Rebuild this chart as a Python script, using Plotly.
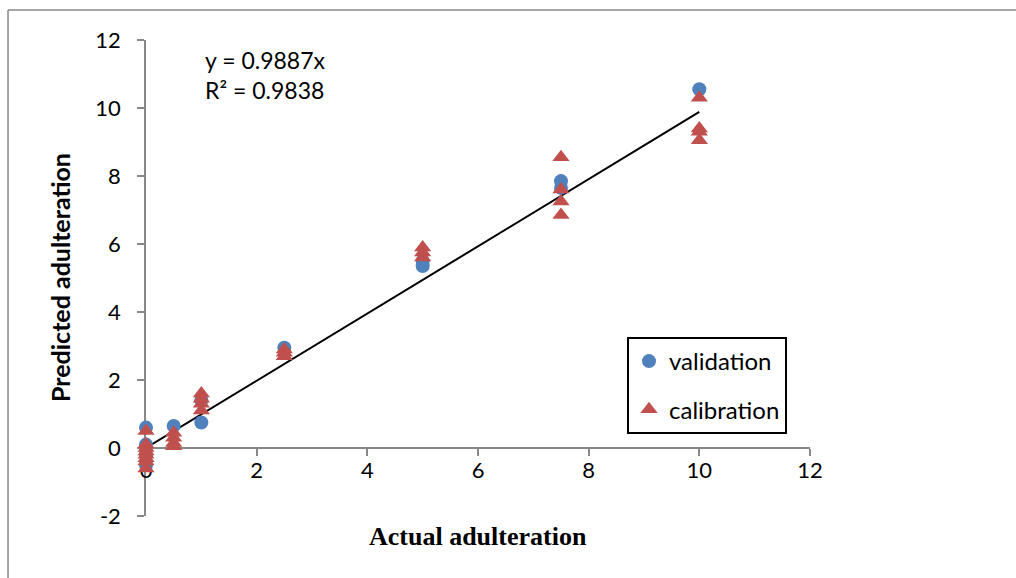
import plotly.graph_objects as go

# Data
val_x = [0, 0, 0, 0, 0.5, 1, 1, 2.5, 5, 5, 7.5, 7.5, 10]
val_y = [0.6, 0.1, -0.2, -0.5, 0.65, 1.4, 0.75, 2.95, 5.5, 5.35, 7.85, 7.65, 10.55]
cal_x = [0, 0, 0, 0, 0, 0, 0, 0, 0.5, 0.5, 0.5, 0.5, 1, 1, 1, 1,
         2.5, 2.5, 2.5, 5, 5, 5, 7.5, 7.5, 7.5, 7.5, 10, 10, 10, 10]
cal_y = [0.5, 0.1, 0.0, -0.1, -0.2, -0.3, -0.4, -0.6, 0.45, 0.3, 0.15, 0.05, 1.6, 1.45, 1.3, 1.1,
         2.9, 2.8, 2.7, 5.9, 5.75, 5.6, 8.55, 7.6, 7.25, 6.85, 10.3, 9.4, 9.3, 9.05]
slope = 0.9887
r2 = 0.9838
fit_x = [0, 10]
fit_y = [v * slope for v in fit_x]
x_ticks = [0, 2, 4, 6, 8, 10, 12]
y_ticks = [-2, 0, 2, 4, 6, 8, 10, 12]
y_tick_text = ["-2", "0", "2", "4", "6", "8", "10", "12"]

BLUE = "#4F81BD"
RED = "#C0504D"
FONT = "Lato"

fig = go.Figure()
fig.add_trace(go.Scatter(x=fit_x, y=fit_y, mode="lines", line=dict(color="black", width=2),
                         showlegend=False, hoverinfo="skip", cliponaxis=False))
fig.add_trace(go.Scatter(x=val_x, y=val_y, mode="markers", name="validation", legendgroup="a",
                         cliponaxis=False,
                         marker=dict(symbol="circle", size=14, color=BLUE)))
fig.add_trace(go.Scatter(x=cal_x, y=cal_y, mode="markers", name="calibration", legendgroup="b",
                         cliponaxis=False,
                         marker=dict(symbol="triangle-up", size=15, color=RED)))

fig.update_layout(
    width=1016, height=578,
    margin=dict(l=146, r=206, t=40, b=62),
    paper_bgcolor="white", plot_bgcolor="white",
    font=dict(family=FONT, size=22, color="black"),
    xaxis=dict(range=[0, 12], tickvals=x_ticks, showgrid=False, zeroline=False,
               showline=True, linecolor="#888888", linewidth=1.5, layer="below traces",
               ticks="outside", ticklen=7, tickcolor="#888888", tickwidth=1.5,
               ticklabelstandoff=-4,
               anchor="free", position=2 / 14, tickfont=dict(family=FONT, size=22)),
    yaxis=dict(range=[-2, 12], tickvals=y_ticks, ticktext=y_tick_text, showgrid=False, zeroline=False,
               showline=True, linecolor="#888888", linewidth=1.5, layer="below traces",
               ticks="outside", ticklen=7, tickcolor="#888888", tickwidth=1.5,
               ticklabelstandoff=12,
               tickfont=dict(family=FONT, size=22)),
    legend=dict(x=0.7244, y=0.376, xanchor="left", yanchor="top",
                bordercolor="black", borderwidth=2, bgcolor="white",
                font=dict(family=FONT, size=24), traceorder="grouped", tracegroupgap=14),
    showlegend=True,
)

fig.add_annotation(x=1.03, y=11.41, xref="x", yref="y", text="y = 0.9887x", showarrow=False,
                   xanchor="left", font=dict(family=FONT, size=23))
fig.add_annotation(x=1.03, y=10.53, xref="x", yref="y", text="R² = 0.9838", showarrow=False,
                   xanchor="left", font=dict(family=FONT, size=23))
fig.add_annotation(x=0.5, y=-0.044, xref="paper", yref="paper", text="<b>Actual adulteration</b>",
                   showarrow=False, xanchor="center", yanchor="middle",
                   font=dict(family="Liberation Serif", size=26))
fig.add_annotation(x=-0.1295, y=0.5, xref="paper", yref="paper", text="<b>Predicted adulteration</b>",
                   showarrow=False, textangle=-90, xanchor="center", yanchor="middle",
                   font=dict(family=FONT, size=25))

# outer chart-area frame (only top and left edges are visible in the reference)
fig.add_shape(type="line", xref="paper", yref="paper", x0=-0.2078, x1=1.4, y0=1.063, y1=1.063,
              line=dict(color="#888888", width=1.5), layer="below")
fig.add_shape(type="line", xref="paper", yref="paper", x0=-0.2078, x1=-0.2078, y0=-0.2, y1=1.063,
              line=dict(color="#888888", width=1.5), layer="below")

fig.write_html("out.html")
